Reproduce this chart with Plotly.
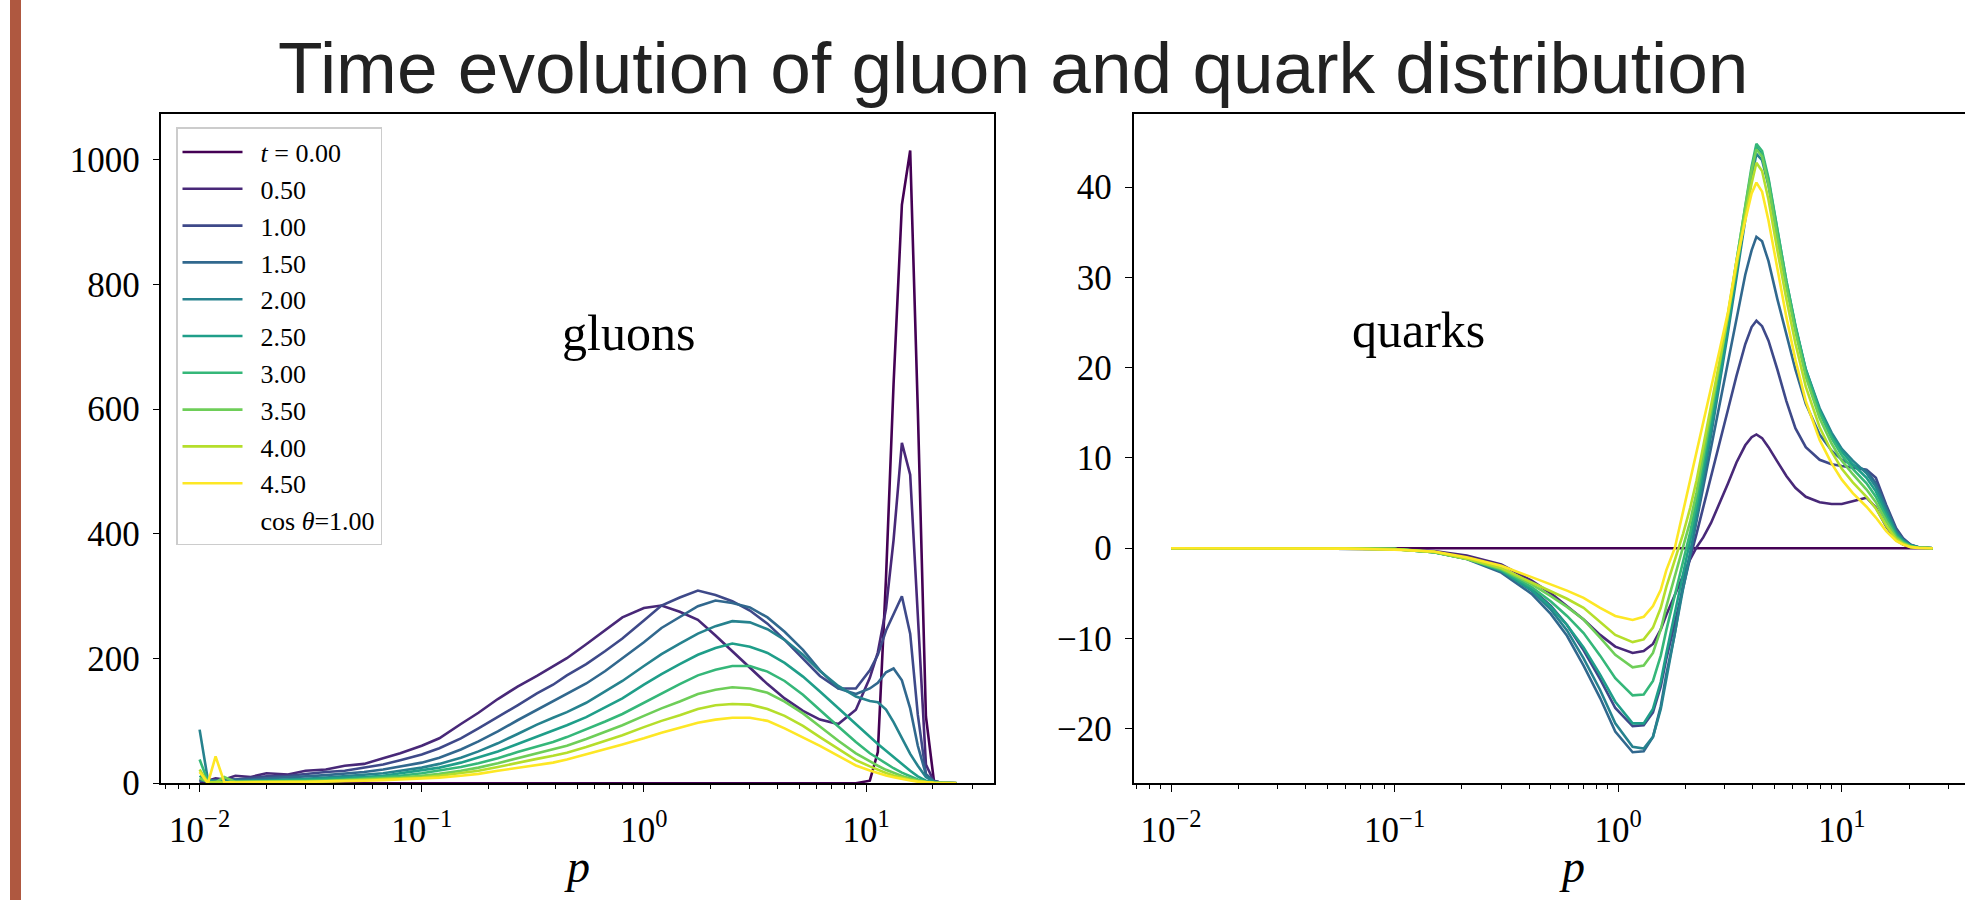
import plotly.graph_objects as go

W, H = 1965, 900

# ---------------- data ----------------
T_LABELS = ["<i>t</i> = 0.00", "0.50", "1.00", "1.50", "2.00", "2.50", "3.00", "3.50", "4.00", "4.50"]
COLORS = ["#440154", "#482878", "#3e4989", "#31688e", "#26828e",
          "#1f9e89", "#35b779", "#6ece58", "#b5de2b", "#fde725"]

P_G = [0.01, 0.0109, 0.0118, 0.0129, 0.0145, 0.017, 0.02, 0.025, 0.03, 0.037, 0.045, 0.055,
       0.067, 0.08, 0.1, 0.12, 0.15, 0.18, 0.22, 0.27, 0.33, 0.39, 0.45, 0.55, 0.67, 0.8,
       1.0, 1.2, 1.45, 1.75, 2.1, 2.5, 3.0, 3.6, 4.3, 5.2, 6.2, 7.5, 9.0, 10.4, 11.3, 12.3,
       13.3, 14.5, 15.8, 17.1, 18.6, 20.2, 22.0, 23.9, 25.5]

G_T00 = [0, 0, 0, 0, 0, 0, 0, 0, 0, 0, 0, 0, 0, 0, 0, 0, 0, 0, 0, 0, 0, 0,
         0, 0, 0, 0, 0, 0, 0, 0, 0, 0, 0, 0, 0, 0, 0, 0, 0,
         4, 50, 330, 640, 928, 1015, 600, 107, 4, 0, 0, 0]
G_T05 = [5, 4, 8, 6, 12, 10, 16, 14, 20, 22, 28, 31, 40, 48, 60, 72, 95, 113, 135, 155, 172, 187,
         200.5, 223, 246, 266, 281, 285, 275, 262, 237, 212, 185, 159, 136, 116, 102, 95, 118,
         169, 210, 280, 390, 546, 495, 272, 30, 3, 0.5, 0.1, 0]
G_T10 = [3, 6, 4, 7, 6, 9, 11, 12, 15, 18, 20, 25, 30, 37, 46, 56, 72, 88, 106, 125, 144, 158,
         173, 191, 212, 232, 261, 285, 298, 309, 302, 292, 277, 256, 230, 200, 172, 152, 152,
         181, 206, 245, 271, 300, 240, 110, 15, 2, 0.5, 0.2, 0]
G_T15 = [4, 3, 5, 4, 6, 6, 8, 9, 11, 13, 15, 18, 22, 27, 33, 41, 54, 67, 83, 101, 118, 131,
         143, 160, 180, 200, 226, 249, 267, 284, 293, 289, 282, 266, 243, 214, 181, 152, 143,
         152, 161, 178, 184, 165, 120, 60, 14, 3, 0.8, 0.3, 0.1]
G_T20 = [86, 5, 3, 3, 4, 4, 5, 6, 7, 9, 11, 13, 16, 20, 25, 31, 41, 51, 64, 79, 94, 105,
         114, 129, 147, 164, 188, 207, 224, 240, 252, 260, 258, 247, 230, 206, 180, 156, 139,
         132, 130, 118, 98, 72, 47, 28, 10, 2.5, 0.6, 0.2, 0.1]
G_T25 = [12, 2, 3, 2, 3, 3, 4, 5, 6, 7, 8, 10, 12, 16, 20, 25, 33, 41, 51, 63, 75, 84,
         93, 106, 122, 136, 158, 175, 191, 206, 217, 224, 219, 209, 193, 171, 147, 120, 94,
         74, 63, 52, 42, 30, 20, 11, 4, 1, 0.3, 0.1, 0]
G_T30 = [38, 3, 1, 2, 2, 2, 3, 4, 4, 5, 6, 8, 10, 12, 16, 20, 26, 32, 40, 50, 59, 66,
         74, 86, 99, 111, 129, 145, 159, 173, 182, 188, 188, 179, 164, 142, 117, 91, 66,
         48, 40, 31, 24, 17, 11, 6, 2.5, 0.8, 0.2, 0.1, 0]
G_T35 = [8, 2, 1, 10, 2, 2, 2, 3, 3, 4, 5, 6, 7, 9, 12, 15, 20, 25, 32, 40, 48, 54,
         60, 71, 82, 93, 108, 120, 131, 143, 150, 154, 152, 145, 131, 112, 91, 68, 48,
         35, 28, 21.5, 16.5, 11.5, 7.5, 4.2, 1.8, 0.6, 0.2, 0.1, 0]
G_T40 = [22, 1, 2, 1, 2, 2, 2, 2, 3, 3, 4, 5, 6, 7, 9, 12, 16, 20, 26, 32, 39, 44,
         49, 58, 68, 77, 90, 100, 109, 119, 125, 127, 126, 119, 108, 92, 74, 55, 37,
         27, 21.5, 16.5, 12.5, 8.5, 5.5, 3.2, 1.5, 0.5, 0.2, 0.1, 0]
G_T45 = [18, 0, 43, 2, 1, 1, 1, 2, 2, 3, 3, 4, 5, 6, 7, 9, 12, 15, 20, 25, 30, 33,
         38, 46, 54, 62, 72, 81, 89, 97, 102, 105, 105, 100, 88, 74, 60, 44, 28.5,
         20.3, 16.2, 12.5, 9.5, 6.5, 4.2, 2.5, 1.2, 0.5, 0.2, 0.1, 0.05]

P_Q = [0.01, 0.03, 0.06, 0.1, 0.15, 0.21, 0.3, 0.41, 0.5, 0.59, 0.7, 0.83, 0.97, 1.16, 1.3,
       1.43, 1.55, 1.64, 1.79, 1.95, 2.1, 2.24, 2.4, 2.6, 2.85, 3.1, 3.38, 3.7, 3.95, 4.15,
       4.4, 4.7, 5.15, 5.65, 6.2, 6.9, 7.96, 9.0, 10.0, 11.2, 12.9, 14.2, 15.8, 17.5, 18.8,
       20.3, 22.0, 25.5]

Q_T00 = [0, 0, 0, 0, 0, 0, 0, 0, 0, 0, 0, 0, 0, 0, 0, 0, 0, 0, 0, 0, 0, 0, 0, 0,
         0, 0, 0, 0, 0, 0, 0, 0, 0, 0, 0, 0, 0, 0, 0, 0, 0, 0, 0, 0, 0, 0, 0, 0]
Q_T05 = [0, 0, -0.02, -0.08, -0.3, -0.8, -1.8, -3.6, -5.0, -6.4, -7.9, -9.6, -10.9, -11.6, -11.4,
         -10.6, -9.0, -7.4, -5.2, -3.0, -1.2, 0.1, 1.2, 2.8, 5.0, 7.2, 9.5, 11.4, 12.3, 12.6,
         12.2, 11.2, 9.6, 8.0, 6.7, 5.7, 5.1, 4.9, 4.9, 5.2, 5.6, 4.5, 2.4, 0.9, 0.4, 0.15, 0.05, 0]
Q_T10 = [0, 0, -0.02, -0.08, -0.42, -1.08, -2.4, -4.5, -6.4, -8.5, -11.3, -14.5, -17.7, -19.7, -19.6,
         -18.2, -15.3, -12.3, -8.3, -4.2, -1.0, 1.6, 4.6, 8.0, 11.8, 15.4, 19.1, 22.6, 24.5, 25.2,
         24.6, 23.0, 19.8, 16.3, 13.3, 11.2, 9.8, 9.3, 9.1, 8.9, 8.7, 7.8, 4.8, 2.2, 1.1, 0.4, 0.1, 0]
Q_T15 = [0, 0, -0.02, -0.08, -0.45, -1.19, -2.7, -5.05, -7.3, -9.7, -13.0, -16.6, -20.3, -22.6, -22.5,
         -20.9, -17.5, -14.0, -9.5, -4.0, -0.5, 3.0, 7.0, 11.0, 16.0, 20.5, 25.5, 30.3, 33.0, 34.5,
         34.0, 31.8, 27.6, 23.6, 19.8, 16.0, 12.6, 10.8, 9.8, 9.2, 8.6, 7.2, 4.6, 2.0, 1.0, 0.4, 0.1, 0]
Q_T20 = [0, 0, -0.02, -0.08, -0.42, -1.1, -2.5, -4.7, -6.8, -9.1, -12.2, -15.7, -19.4, -22.0, -22.2,
         -20.9, -17.8, -14.5, -9.6, -4.5, -0.6, 3.2, 7.6, 12.5, 18.3, 24.0, 30.0, 36.5, 41.0, 43.7,
         43.0, 40.2, 34.5, 29.3, 24.5, 19.8, 15.5, 12.8, 11.0, 9.7, 8.3, 6.8, 4.2, 1.8, 0.9, 0.3, 0.1, 0]
Q_T25 = [0, 0, -0.02, -0.1, -0.45, -1.15, -2.5, -4.6, -6.5, -8.5, -11.0, -14.0, -17.0, -19.4, -19.4,
         -17.8, -14.8, -11.7, -7.3, -3.0, 0.6, 4.2, 8.5, 13.3, 19.0, 24.6, 30.8, 37.2, 41.6, 44.4,
         43.6, 40.8, 35.0, 29.6, 24.7, 19.8, 15.3, 12.5, 10.7, 9.3, 7.8, 6.3, 3.8, 1.6, 0.8, 0.3, 0.1, 0]
Q_T30 = [0, 0, -0.02, -0.1, -0.45, -1.15, -2.4, -4.3, -5.9, -7.5, -9.4, -11.9, -14.4, -16.3, -16.2,
         -14.7, -11.9, -9.1, -5.2, -1.5, 1.8, 5.2, 9.5, 14.3, 20.0, 25.6, 31.8, 38.0, 42.3, 44.8,
         44.0, 41.0, 35.2, 29.6, 24.6, 19.6, 15.0, 12.2, 10.3, 8.8, 7.2, 5.7, 3.4, 1.4, 0.7, 0.25, 0.08, 0]
Q_T35 = [0, 0, -0.02, -0.1, -0.45, -1.2, -2.3, -4.0, -5.3, -6.5, -7.9, -9.9, -11.8, -13.2, -13.0,
         -11.6, -9.0, -6.5, -3.2, 0.0, 3.0, 6.2, 10.3, 15.0, 20.6, 26.0, 31.9, 37.8, 41.9, 44.2,
         43.4, 40.3, 34.5, 29.0, 24.0, 19.0, 14.4, 11.6, 9.7, 8.2, 6.5, 5.1, 3.0, 1.2, 0.6, 0.2, 0.06, 0]
Q_T40 = [0, 0, -0.02, -0.1, -0.4, -1.15, -2.2, -3.8, -4.8, -5.6, -6.6, -8.2, -9.6, -10.4, -10.1,
         -8.8, -6.6, -4.3, -1.4, 1.6, 4.5, 7.5, 11.3, 15.6, 20.9, 25.9, 31.4, 36.8, 40.4, 42.7,
         41.8, 38.6, 33.0, 27.6, 22.7, 17.9, 13.4, 10.7, 8.8, 7.3, 5.7, 4.4, 2.5, 1.0, 0.5, 0.15, 0.05, 0]
Q_T45 = [0, 0, -0.04, -0.16, -0.36, -1.0, -1.95, -3.2, -4.0, -4.7, -5.5, -6.6, -7.5, -7.94, -7.6,
         -6.4, -4.6, -2.45, 0.0, 4.0, 7.5, 10.5, 13.8, 17.6, 22.1, 26.2, 31.8, 36.3, 39.3, 40.5,
         39.5, 36.3, 30.8, 25.6, 20.9, 16.3, 12.0, 9.4, 7.6, 6.1, 4.6, 3.4, 1.9, 0.8, 0.4, 0.12, 0.04, 0]

GLUONS = [G_T00, G_T05, G_T10, G_T15, G_T20, G_T25, G_T30, G_T35, G_T40, G_T45]
QUARKS = [Q_T00, Q_T05, Q_T10, Q_T15, Q_T20, Q_T25, Q_T30, Q_T35, Q_T40, Q_T45]

X_TICKVALS = [0.01, 0.1, 1, 10]
X_TICKTEXT = ["10<sup>−2</sup>", "10<sup>−1</sup>", "10<sup>0</sup>", "10<sup>1</sup>"]
YG_TICKVALS = [0, 200, 400, 600, 800, 1000]
YG_TICKTEXT = ["0", "200", "400", "600", "800", "1000"]
YQ_TICKVALS = [-20, -10, 0, 10, 20, 30, 40]
YQ_TICKTEXT = ["−20", "−10", "0", "10", "20", "30", "40"]
MINOR_VALS = [0.007, 0.008, 0.009, 0.02, 0.03, 0.04, 0.05, 0.06, 0.07, 0.08, 0.09,
              0.2, 0.3, 0.4, 0.5, 0.6, 0.7, 0.8, 0.9, 2, 3, 4, 5, 6, 7, 8, 9, 20, 30]

# ---------------- figure ----------------
SERIF = "Liberation Serif"
GAP = "\u00a0\u00a0"
fig = go.Figure()

for i in range(10):
    fig.add_trace(go.Scatter(x=P_G, y=GLUONS[i], mode="lines", name=GAP + T_LABELS[i],
                             line=dict(color=COLORS[i], width=2.6),
                             xaxis="x", yaxis="y", showlegend=True))
fig.add_trace(go.Scatter(x=[None], y=[None], mode="lines", name=GAP + "cos <i>θ</i>=1.00",
                         line=dict(color="rgba(0,0,0,0)", width=2.6),
                         xaxis="x", yaxis="y", showlegend=True))
for i in range(10):
    fig.add_trace(go.Scatter(x=P_Q, y=QUARKS[i], mode="lines", name=T_LABELS[i],
                             line=dict(color=COLORS[i], width=2.6),
                             xaxis="x2", yaxis="y2", showlegend=False))

axis_common = dict(showline=True, linecolor="black", linewidth=1.5, ticks="outside",
                   ticklen=7, tickwidth=1.3, tickcolor="black", showgrid=False, zeroline=False,
                   tickfont=dict(family=SERIF, size=35, color="black"))
minor = dict(tickvals=MINOR_VALS, ticks="outside", ticklen=4, tickwidth=1,
             tickcolor="black", showgrid=False)

L0, L1 = 161.4 / W, 994 / W
R0 = 1133.5 / W
Y0, Y1 = (H - 801) / H, (H - 117) / H

fig.update_layout(
    width=W, height=H, margin=dict(l=0, r=0, t=0, b=0),
    paper_bgcolor="white", plot_bgcolor="white",
    xaxis=dict(type="log", domain=[L0, L1], range=[-2.172, 1.576], anchor="y", mirror=True,
               tickmode="array", tickvals=X_TICKVALS, ticktext=X_TICKTEXT, minor=minor,
               ticklabelstandoff=8, **axis_common),
    yaxis=dict(domain=[Y0, Y1], range=[0, 1073], anchor="x", mirror=True,
               tickmode="array", tickvals=YG_TICKVALS, ticktext=YG_TICKTEXT,
               ticklabelstandoff=6, **axis_common),
    xaxis2=dict(type="log", domain=[R0, 1.0], range=[-2.168, 1.551], anchor="y2", mirror=True,
                tickmode="array", tickvals=X_TICKVALS, ticktext=X_TICKTEXT, minor=minor,
                ticklabelstandoff=8, **axis_common),
    yaxis2=dict(domain=[Y0, Y1], range=[-26.03, 48.06], anchor="x2", mirror=False,
                tickmode="array", tickvals=YQ_TICKVALS, ticktext=YQ_TICKTEXT,
                ticklabelstandoff=6, **axis_common),
    legend=dict(x=176 / W, y=1 - 130 / H, xanchor="left", yanchor="top",
                bgcolor="white", bordercolor="#cccccc", borderwidth=1.5,
                font=dict(family=SERIF, size=26, color="black"),
                itemwidth=60, tracegroupgap=0),
    shapes=[dict(type="rect", xref="paper", yref="paper", x0=10 / W, x1=21 / W, y0=-0.1, y1=1.1,
                 fillcolor="#AF5840", line=dict(width=0), layer="above")],
    annotations=[
        dict(text="Time evolution of gluon and quark distribution", xref="paper", yref="paper",
             x=1013 / W, y=1 - 69 / H, xanchor="center", yanchor="middle", showarrow=False,
             font=dict(family="Liberation Sans", size=73, color="#222222")),
        dict(text="gluons", xref="paper", yref="paper", x=628 / W, y=1 - 341 / H,
             xanchor="center", yanchor="middle", showarrow=False,
             font=dict(family=SERIF, size=50, color="black")),
        dict(text="quarks", xref="paper", yref="paper", x=1418 / W, y=1 - 337 / H,
             xanchor="center", yanchor="middle", showarrow=False,
             font=dict(family=SERIF, size=50, color="black")),
        dict(text="<i>p</i>", xref="paper", yref="paper", x=577 / W, y=1 - 886 / H,
             xanchor="center", yanchor="middle", showarrow=False,
             font=dict(family=SERIF, size=46, color="black")),
        dict(text="<i>p</i>", xref="paper", yref="paper", x=1572 / W, y=1 - 886 / H,
             xanchor="center", yanchor="middle", showarrow=False,
             font=dict(family=SERIF, size=46, color="black")),
    ],
)

fig.write_html("out.html")
